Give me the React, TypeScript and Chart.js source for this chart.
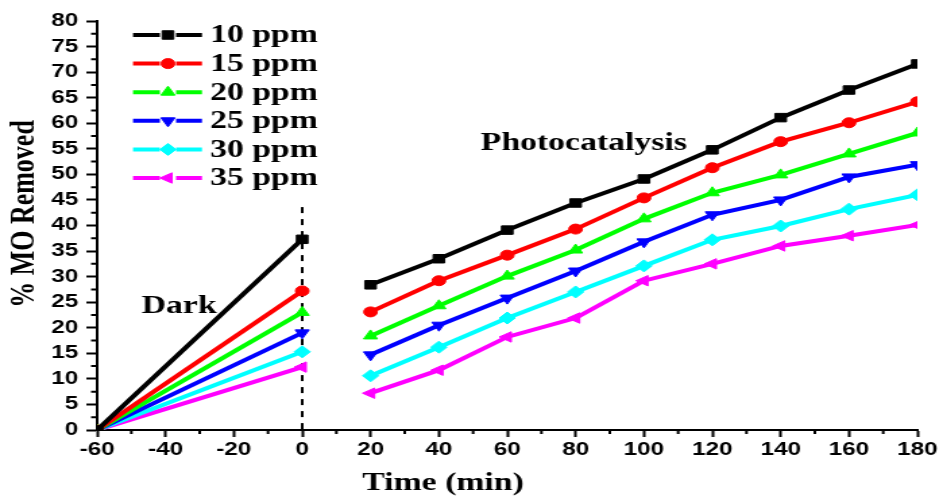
import React, { useEffect, useRef } from 'react';
import { Chart, registerables } from 'chart.js';
import { drawPoint } from 'chart.js/helpers';

Chart.register(...registerables);

// ---------- data ----------
const darkTimes = [-60, 0];
const photoTimes = [20, 40, 60, 80, 100, 120, 140, 160, 180];
const seriesLabels = ['10 ppm', '15 ppm', '20 ppm', '25 ppm', '30 ppm', '35 ppm'];

const dark10 = [0, 37.3];
const dark15 = [0, 27.2];
const dark20 = [0, 23.0];
const dark25 = [0, 19.0];
const dark30 = [0, 15.3];
const dark35 = [0, 12.3];

const photo10 = [28.4, 33.5, 39.1, 44.4, 49.1, 54.8, 61.1, 66.5, 71.6];
const photo15 = [23.1, 29.2, 34.2, 39.3, 45.4, 51.3, 56.4, 60.1, 64.2];
const photo20 = [18.4, 24.3, 30.1, 35.2, 41.3, 46.4, 49.9, 54.0, 58.1];
const photo25 = [14.7, 20.5, 25.8, 31.1, 36.8, 42.1, 45.0, 49.5, 51.9];
const photo30 = [10.6, 16.2, 21.9, 27.0, 32.1, 37.2, 39.9, 43.2, 46.0];
const photo35 = [7.2, 11.7, 18.2, 21.9, 29.2, 32.5, 36.0, 38.0, 40.1];

const darkSeries = [dark10, dark15, dark20, dark25, dark30, dark35];
const photoSeries = [photo10, photo15, photo20, photo25, photo30, photo35];

const xMin = -60;
const xMax = 180;
const xStep = 20;
const yMin = 0;
const yMax = 80;
const yStep = 5;

const darkLabel = { text: 'Dark', x: -36, y: 24.1 };
const photoLabel = { text: 'Photocatalysis', x: 82.4, y: 56.1 };
const dividerX = 0;
const dividerTop = 43.6;
const xTitle = 'Time (min)';
const yTitle = '% MO Removed';

// ---------- styles ----------
const colors = ['#000000', '#ff0000', '#00ff00', '#0000ff', '#00ffff', '#ff00ff'];
const pointStyles = ['rect', 'circle', 'triangle', 'triangle', 'rectRot', 'triangle'];
const pointRotations = [0, 0, 0, 180, 0, 270];
const pointRadii = [6, 5, 6, 6, 6, 6];

const CSS_W = 943;
const CSS_H = 496;
const STRETCH = 1.349;
const CANVAS_W = Math.round(CSS_W / STRETCH);

const serif = '"Liberation Serif", "Times New Roman", serif';
const sans = '"Liberation Sans", Arial, sans-serif';

function buildData(i: number) {
  const pts: { x: number; y: number | null }[] = [];
  darkTimes.forEach((t, k) => pts.push({ x: t, y: darkSeries[i][k] }));
  pts.push({ x: (darkTimes[darkTimes.length - 1] + photoTimes[0]) / 2, y: null });
  photoTimes.forEach((t, k) => pts.push({ x: t, y: photoSeries[i][k] }));
  return pts;
}

const decorPlugin = {
  id: 'decor',
  beforeDatasetsDraw(chart: any) {
    const { ctx, scales } = chart;
    const xs = scales.x;
    const ys = scales.y;
    const px = xs.getPixelForValue(dividerX);
    ctx.save();
    ctx.strokeStyle = '#000';
    ctx.lineWidth = 2;
    ctx.setLineDash([6, 6]);
    ctx.beginPath();
    ctx.moveTo(px, ys.getPixelForValue(dividerTop));
    ctx.lineTo(px, ys.getPixelForValue(yMin));
    ctx.stroke();
    ctx.restore();
  },
  afterDraw(chart: any) {
    const { ctx, scales, chartArea } = chart;
    const xs = scales.x;
    const ys = scales.y;
    ctx.save();
    // minor ticks
    ctx.strokeStyle = '#000';
    ctx.lineWidth = 2;
    ctx.beginPath();
    for (let v = xMin + xStep / 2; v < xMax; v += xStep) {
      const p = xs.getPixelForValue(v);
      ctx.moveTo(p, chartArea.bottom);
      ctx.lineTo(p, chartArea.bottom + 4);
    }
    for (let v = yMin + yStep / 2; v < yMax; v += yStep) {
      const p = ys.getPixelForValue(v);
      ctx.moveTo(chartArea.left, p);
      ctx.lineTo(chartArea.left - 4.5, p);
    }
    ctx.stroke();

    // annotations
    ctx.fillStyle = '#000';
    ctx.textAlign = 'center';
    ctx.textBaseline = 'middle';
    ctx.font = `bold 25px ${serif}`;
    ctx.fillText(darkLabel.text, xs.getPixelForValue(darkLabel.x), ys.getPixelForValue(darkLabel.y));
    ctx.fillText(photoLabel.text, xs.getPixelForValue(photoLabel.x), ys.getPixelForValue(photoLabel.y));

    // axis titles
    ctx.fillText(xTitle, 328.4, 484);
    ctx.save();
    ctx.translate(18.5, 214);
    ctx.rotate(-Math.PI / 2);
    ctx.font = `bold 26px ${serif}`;
    ctx.fillText(yTitle, 0, 0);
    ctx.restore();

    // legend
    const lx0 = 98.6;
    const lx1 = 149.7;
    const mx = 124.5;
    const tx = 155.7;
    const top = 35;
    const gap = 28.6;
    ctx.textAlign = 'left';
    ctx.font = `bold 25px ${serif}`;
    chart.data.datasets.forEach((ds: any, i: number) => {
      const y = top + i * gap;
      ctx.strokeStyle = ds.borderColor;
      ctx.fillStyle = ds.borderColor;
      ctx.lineWidth = 4;
      ctx.setLineDash([]);
      ctx.beginPath();
      ctx.moveTo(lx0, y);
      ctx.lineTo(mx - 6, y);
      ctx.moveTo(mx + 6, y);
      ctx.lineTo(lx1, y);
      ctx.stroke();
      ctx.lineWidth = 1;
      drawPoint(ctx, { pointStyle: ds.pointStyle, rotation: ds.pointRotation, radius: ds.pointRadius, borderWidth: 1 }, mx, y);
      ctx.fillStyle = '#000';
      ctx.fillText(ds.label, tx, y + 1);
    });
    ctx.restore();
  },
};

export default function App() {
  const ref = useRef<HTMLCanvasElement | null>(null);

  useEffect(() => {
    document.body.style.margin = '0';
    const canvas = ref.current;
    if (!canvas) return;
    const datasets = seriesLabels.map((label, i) => ({
      label,
      data: buildData(i),
      borderColor: colors[i],
      backgroundColor: colors[i],
      pointBackgroundColor: colors[i],
      pointBorderColor: colors[i],
      borderWidth: 4,
      pointRadius: pointRadii[i],
      pointStyle: pointStyles[i],
      pointRotation: pointRotations[i],
      pointBorderWidth: 1,
      spanGaps: false,
      tension: 0,
      clip: 0,
    }));

    const chart = new Chart(canvas, {
      type: 'line',
      data: { datasets } as any,
      options: {
        responsive: false,
        animation: false,
        devicePixelRatio: 1,
        parsing: true,
        layout: { padding: { top: 21, right: 19, bottom: 0, left: 0 } },
        plugins: { legend: { display: false }, tooltip: { enabled: false } },
        scales: {
          x: {
            type: 'linear',
            min: xMin,
            max: xMax,
            border: { display: true, color: '#000', width: 2 },
            grid: { display: true, drawOnChartArea: false, drawTicks: true, tickLength: 7, tickWidth: 2, tickColor: '#000' },
            ticks: {
              stepSize: xStep,
              color: '#000',
              padding: 2,
              maxRotation: 0,
              autoSkip: false,
              font: { family: sans, size: 18, weight: 'bold' },
            },
            afterFit: (s: any) => {
              s.height = 66;
            },
          },
          y: {
            type: 'linear',
            min: yMin,
            max: yMax,
            border: { display: true, color: '#000', width: 2 },
            grid: { display: true, drawOnChartArea: false, drawTicks: true, tickLength: 8, tickWidth: 2, tickColor: '#000' },
            ticks: {
              stepSize: yStep,
              color: '#000',
              padding: 6,
              autoSkip: false,
              font: { family: sans, size: 18, weight: 'bold' },
            },
            afterFit: (s: any) => {
              s.width = 72;
            },
          },
        },
      } as any,
      plugins: [decorPlugin],
    });
    return () => chart.destroy();
  }, []);

  return (
    <div style={{ width: CSS_W, height: CSS_H, background: '#fff' }}>
      <canvas
        ref={ref}
        width={CANVAS_W}
        height={CSS_H}
        style={{ width: `${CSS_W}px`, height: `${CSS_H}px`, display: 'block' }}
      />
    </div>
  );
}
